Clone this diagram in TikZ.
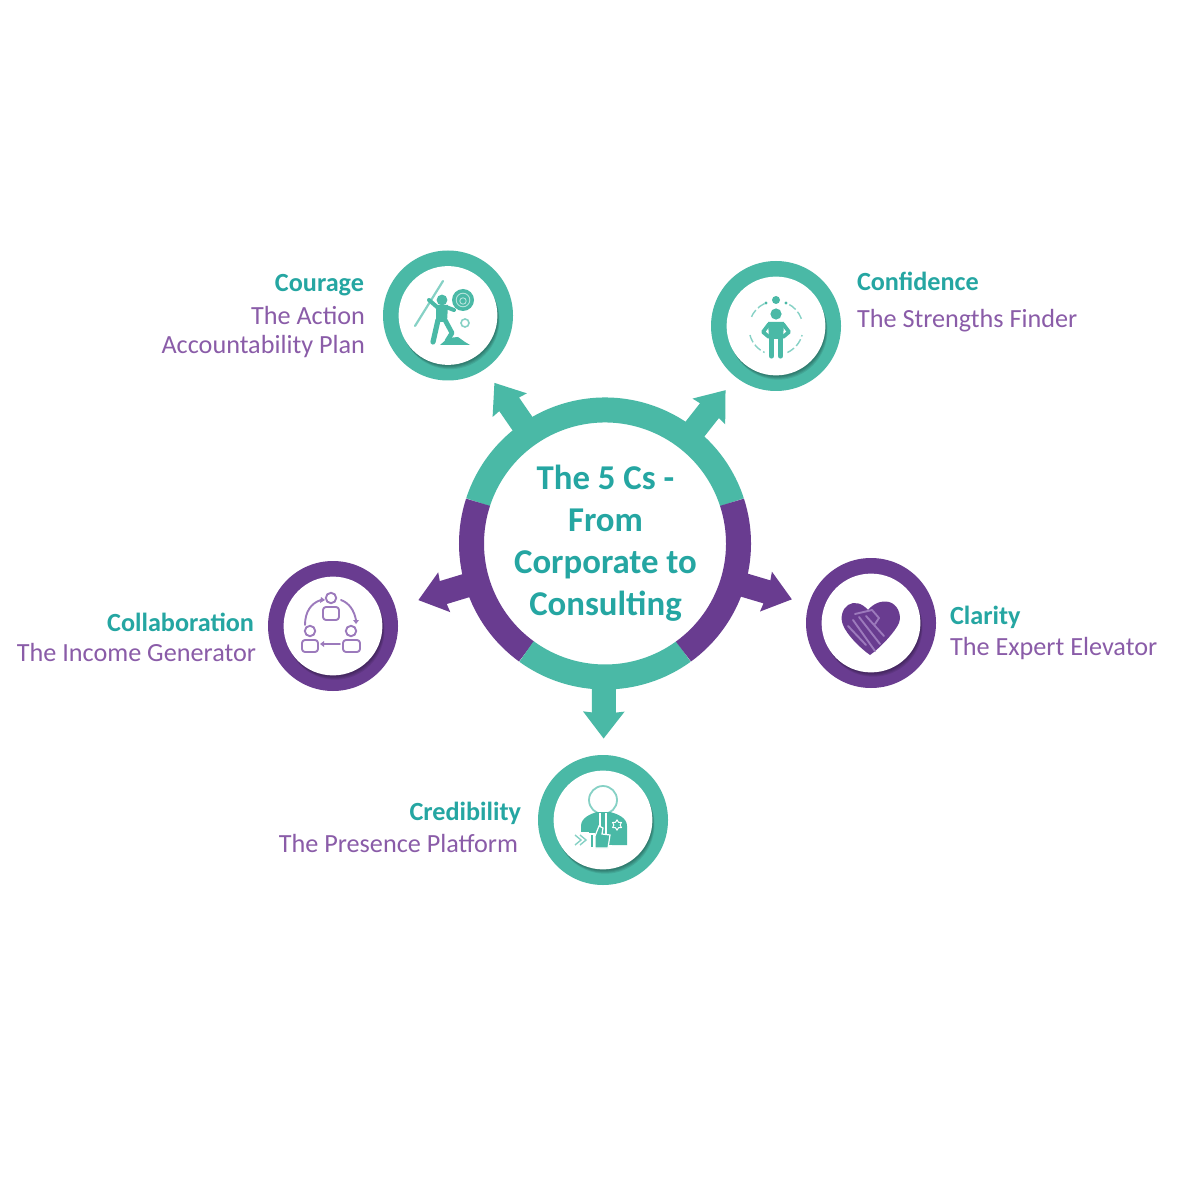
\documentclass[tikz,border=0pt]{standalone}
\usepackage{fontspec}
\setmainfont{Carlito}
\usetikzlibrary{calc,shapes.geometric}
\definecolor{ringteal}{HTML}{4AB9A6}
\definecolor{ringpurple}{HTML}{693C90}
\definecolor{headteal}{HTML}{25A6A2}
\definecolor{subpurple}{HTML}{8A5CA8}
\definecolor{softteal}{HTML}{86D1C5}
\definecolor{softpurple}{HTML}{9C7ABC}
\tikzset{
  disc/.style={circle,inner sep=0pt,outer sep=0pt,minimum size=65pt},
  head/.style={inner sep=0pt,outer sep=0pt,text height=.7em,text depth=.2em,text=headteal,font=\fontsize{13.1}{15}\selectfont\bfseries},
  sub/.style={inner sep=0pt,outer sep=0pt,text height=.7em,text depth=.2em,text=subpurple,font=\fontsize{13.1}{15}\selectfont},
  segment/.style={line width=12.5pt,line cap=butt},
  thinicon/.style={line width=.95pt,line cap=round,line join=round},
  limb/.style={ringteal,line cap=round,line join=round},
}
\newcommand{\blockarrow}[2]{%
  \fill[#2] ($(hub)!70pt!(#1)!6pt!90:(#1)$) -- ($(hub)!84.5pt!(#1)!6pt!90:(#1)$)
    -- ($(hub)!84pt!(#1)!10.4pt!90:(#1)$) -- ($(hub)!97.5pt!(#1)$)
    -- ($(hub)!84pt!(#1)!10.4pt!-90:(#1)$) -- ($(hub)!84.5pt!(#1)!6pt!-90:(#1)$)
    -- ($(hub)!70pt!(#1)!6pt!-90:(#1)$) -- cycle;}
\newcommand{\hubarc}[3]{%
  \draw[segment,#3] ($(hub)+(#1:66.75pt)$) arc[start angle=#1,end angle=#2,radius=66.75pt];}
\newcommand{\satellite}[4]{%
  \node[disc,fill=#4] (#1) at (#2,#3) {};
  \foreach \d in {4.5,3.5,2.5,1.5}{%
    \fill[black,opacity=.09] ($(#1)+(\d*.5,\d)$) circle[radius=24.6pt];}
  \fill[white] (#1) circle[radius=24.7pt];}
\begin{document}
\begin{tikzpicture}[x=.5pt,y=-.5pt]
\useasboundingbox (0,0) rectangle (1181,1181);
\fill[white] (0,0) rectangle (1181,1181);

% satellites
\satellite{courage}{448}{315.5}{ringteal}
\satellite{confidence}{776}{326}{ringteal}
\satellite{collaboration}{333}{626}{ringpurple}
\satellite{clarity}{871}{623}{ringpurple}
\satellite{credibility}{603}{820}{ringteal}

% hub
\node[circle,inner sep=0pt,outer sep=0pt,minimum size=121pt] (hub) at (605,543.5) {};
\blockarrow{courage}{ringteal}
\blockarrow{confidence}{ringteal}
\blockarrow{credibility}{ringteal}
\blockarrow{collaboration}{ringpurple}
\blockarrow{clarity}{ringpurple}
\hubarc{18}{162}{ringteal}
\hubarc{162}{234}{ringpurple}
\hubarc{234}{306}{ringteal}
\hubarc{306}{378}{ringpurple}
\node[inner sep=0pt,align=center,text=headteal,font=\fontsize{17.4}{21}\selectfont\bfseries] (title) at (605.5,543.5)
  {The 5 Cs -\\From\\Corporate to\\Consulting};

% labels
\node[head,anchor=east] (l1a) at (364,287) {Courage};
\node[sub,anchor=east] (l1b) at (365,320) {The Action};
\node[sub,anchor=east] (l1c) at (365,349) {Accountability Plan};
\node[head,anchor=west] (l2a) at (857,286) {Confidence};
\node[sub,anchor=west] (l2b) at (857,323) {The Strengths Finder};
\node[head,anchor=west] (l3a) at (950,619) {Clarity};
\node[sub,anchor=west] (l3b) at (950,650) {The Expert Elevator};
\node[head,anchor=east] (l4a) at (254,626) {Collaboration};
\node[sub,anchor=east] (l4b) at (256,656) {The Income Generator};
\node[head,anchor=east] (l5a) at (521,815) {Credibility};
\node[sub,anchor=east] (l5b) at (518,847) {The Presence Platform};

% icon: courage
\draw[softteal,line width=1.1pt,line cap=round] (415,326) -- (443,281);
\fill[ringteal] (463,300) circle[radius=5.5pt];
\draw[softteal!60!white,line width=.45pt] (463,300) circle[radius=3.4pt];
\draw[softteal!60!white,line width=.45pt] (463,301) circle[radius=1.6pt];
\draw[softteal,line width=.8pt] (465,323) circle[radius=2pt];
\fill[ringteal] (442,300) circle[radius=2.7pt];
\fill[ringteal] (436,305) -- (448,305) -- (447,322) -- (436,322) -- cycle;
\draw[limb,line width=2pt] (437,307) -- (429,300);
\draw[limb,line width=2pt] (446,307) -- (454,310);
\draw[limb,line width=2.6pt] (438,320) -- (433,342);
\draw[limb,line width=2.4pt] (445,320) -- (452,333) -- (447,341);
\fill[ringteal] (440,345) -- (448,338) -- (458,337) -- (465,342) -- (470,345) -- cycle;

% icon: confidence
\fill[ringteal] (776,300) circle[radius=2pt];
\fill[ringteal] (766,303) circle[radius=.8pt];
\fill[ringteal] (786,303) circle[radius=.8pt];
\fill[ringteal] (776,314) circle[radius=2.8pt];
\fill[ringteal] (768,322) -- (784,322) -- (783,339) -- (769,339) -- cycle;
\draw[limb,line width=1.9pt] (769,324) -- (763,332) -- (769,337);
\draw[limb,line width=1.9pt] (783,324) -- (789,332) -- (783,337);
\draw[limb,line width=2.6pt] (771.5,338) -- (771.5,356);
\draw[limb,line width=2.6pt] (780.5,338) -- (780.5,356);
\draw[softteal,line width=.7pt,dash pattern=on 4pt off 1.5pt] (776,328)++(20:13.5pt) arc[start angle=20,end angle=65,radius=13.5pt];
\draw[softteal,line width=.7pt,dash pattern=on 4pt off 1.5pt] (776,328)++(115:13.5pt) arc[start angle=115,end angle=160,radius=13.5pt];
\draw[softteal,line width=.7pt,dash pattern=on 4pt off 1.5pt] (776,328)++(-65:13.5pt) arc[start angle=-65,end angle=-15,radius=13.5pt];
\draw[softteal,line width=.7pt,dash pattern=on 4pt off 1.5pt] (776,328)++(195:13.5pt) arc[start angle=195,end angle=245,radius=13.5pt];

% icon: collaboration
\begin{scope}[softpurple,thinicon]
\draw (331,598) circle[radius=2.6pt];
\draw[rounded corners=1.5pt] (323,607) rectangle (339,620);
\draw (310,631) circle[radius=2.6pt];
\draw[rounded corners=1.5pt] (302,640) rectangle (318,652);
\draw (351,631) circle[radius=2.6pt];
\draw[rounded corners=1.5pt] (343,640) rectangle (360,652);
\draw (305,625) .. controls (305,612) and (311,603) .. (321,600);
\draw (341,600) .. controls (349,603) and (354,610) .. (356,620);
\draw (340,644) -- (324,644);
\end{scope}
\fill[softpurple] (324,641) -- (320,644) -- (324,647) -- cycle;
\fill[softpurple] (321,597) -- (325,600) -- (320,603) -- cycle;
\fill[softpurple] (353,620) -- (359,620) -- (356,624) -- cycle;

% icon: clarity
\fill[ringpurple] (868,610) .. controls (862,603) and (854,601) .. (848,605) .. controls (842,609) and (840,618) .. (843,625)
  .. controls (847,635) and (860,648) .. (870,655) .. controls (880,648) and (895,632) .. (899,623)
  .. controls (902,614) and (897,604) .. (889,602) .. controls (881,600) and (873,604) .. (868,610) -- cycle;
\begin{scope}[softpurple,thinicon]
\draw (855,614) -- (872,610) -- (879,618) -- (875,624);
\draw (848,626) -- (866,645);
\draw (853,620) -- (875,651);
\draw (859,617) -- (880,644);
\draw (866,616) -- (884,636);
\end{scope}

% icon: credibility
\draw[softteal,line width=.9pt] (603,800) circle[radius=7pt];
\fill[ringteal] (581,845) -- (581,826) .. controls (581,818) and (590,814) .. (597,812) -- (610,812)
  .. controls (618,814) and (627,818) .. (627,826) -- (627,845) -- cycle;
\draw[white,line width=.7pt] (600,813) -- (600,834);
\draw[white,line width=.7pt] (606,813) -- (606,845);
\node[star,star points=6,star point ratio=1.6,inner sep=0pt,minimum size=5pt,draw=white,line width=.5pt] (badge) at (617,825) {};
\fill[white] (574,832) rectangle (589,852);
\fill[white] (589,845) rectangle (612,852);
\fill[ringteal,draw=white,line width=.6pt] (590,834) rectangle (594,848);
\fill[ringteal,draw=white,line width=.6pt] (595,848) -- (595,836) -- (599,826) -- (603,828) -- (602,834) -- (610,835) -- (608,848) -- cycle;
\draw[softteal,line width=.7pt] (575,835) -- (581,840) -- (575,845);
\draw[softteal,line width=.7pt] (580,835) -- (586,840) -- (580,845);
\end{tikzpicture}
\end{document}
